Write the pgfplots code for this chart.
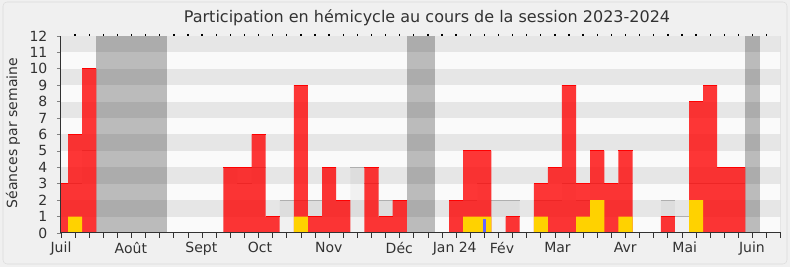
\documentclass[border=0pt]{standalone}
\usepackage{fontspec}
\setmainfont{DejaVu Sans}
\usepackage{pgfplots}
\pgfplotsset{compat=1.18}
\definecolor{bgout}{RGB}{240,240,240}
\definecolor{frameC}{RGB}{220,220,220}
\definecolor{bandL}{RGB}{250,250,250}
\definecolor{bandG}{RGB}{230,230,230}
\definecolor{medline}{RGB}{175,175,175}
\definecolor{presred}{RGB}{255,0,0}
\definecolor{yel}{RGB}{255,210,0}
\definecolor{blu}{RGB}{100,100,255}
\definecolor{axdark}{RGB}{50,50,50}
\begin{document}
\begin{tikzpicture}
\fill[bgout] (0,0) rectangle (592.5pt,200.25pt);
\draw[rounded corners=3pt, draw=frameC, fill=bgout] (2.25pt,2.25pt) rectangle (590.25pt,198.75pt);
\begin{axis}[
  at={(45.75pt,25.5pt)}, anchor=south west, scale only axis,
  width=539.8pt, height=147.75pt,
  xmin=0, xmax=51, ymin=0, ymax=12,
  axis x line*=bottom, axis y line*=left,
  axis line style={-, draw=axdark, line width=0.75pt},
  axis on top,
  tick align=outside,
  major tick length=3pt,
  minor tick length=3.5pt,
  xtick={0,4.95,9.95,14.1,18.97,23.97,27.9,31.25,35.18,39.98,44.2,48.96},
  xticklabels={Juil,Août,Sept,Oct,Nov,Déc,Jan 24,Fév,Mar,Avr,Mai,Juin},
  minor xtick={0,...,51},
  xtick style={draw=axdark, line width=0.6pt},
  major x tick style={draw=none},
  ytick={0,...,12},
  ytick style={draw=gray, line width=0.6pt},
  xticklabel style={font=\fontsize{10.5}{12}\selectfont, text=axdark, inner sep=0pt, anchor=north, yshift=-3.5pt},
  yticklabel style={font=\fontsize{10.5}{12}\selectfont, text=axdark, inner sep=0pt, anchor=east, xshift=-7pt},
  /pgf/number format/assume math mode=true,
  clip=true, clip marker paths=true,
]
% background bands
\fill[bandL] (axis cs:0,0) rectangle (axis cs:51,12);
\fill[bandG] (axis cs:0,1) rectangle (axis cs:51,2);
\fill[bandG] (axis cs:0,3) rectangle (axis cs:51,4);
\fill[bandG] (axis cs:0,5) rectangle (axis cs:51,6);
\fill[bandG] (axis cs:0,7) rectangle (axis cs:51,8);
\fill[bandG] (axis cs:0,9) rectangle (axis cs:51,10);
\fill[bandG] (axis cs:0,11) rectangle (axis cs:51,12);
% holidays
\fill[black, opacity=0.25] (axis cs:2.5,0) rectangle (axis cs:7.5,12);
\fill[black, opacity=0.25] (axis cs:24.5,0) rectangle (axis cs:26.5,12);
\fill[black, opacity=0.25] (axis cs:48.5,0) rectangle (axis cs:49.5,12);
\draw[frameC, line width=0.75pt] (axis cs:51,0) -- (axis cs:51,12);
% median
\addplot[ybar, bar width=1, bar shift=0pt, fill=black, fill opacity=0.035, draw=none]
 coordinates {(0,3)(1,3)(2,5)(12,4)(13,3)(14,4)(15,1)(16,2)(17,2)(18,2)(19,4)(20,2)(21,4)(22,3)(23,2)(24,2)(28,2)(29,2)(30,3)(31,2)(32,2)(34,2)(35,2)(36,3)(37,2)(38,3)(39,3)(40,3)(43,2)(44,1)(45,3)(46,3)(47,3)(48,3)};
\addplot[only marks, mark=-, mark size=5.28pt, mark options={draw=medline, line width=0.75pt}]
 coordinates {(0,3)(1,3)(2,5)(12,4)(13,3)(14,4)(15,1)(16,2)(17,2)(18,2)(19,4)(20,2)(21,4)(22,3)(23,2)(24,2)(28,2)(29,2)(30,3)(31,2)(32,2)(34,2)(35,2)(36,3)(37,2)(38,3)(39,3)(40,3)(43,2)(44,1)(45,3)(46,3)(47,3)(48,3)};
% presence
\addplot[ybar, bar width=1, bar shift=0pt, fill=presred, fill opacity=0.78, draw=none]
 coordinates {(0,3)(1,6)(2,10)(12,4)(13,4)(14,6)(15,1)(17,9)(18,1)(19,4)(20,2)(22,4)(23,1)(24,2)(28,2)(29,5)(30,5)(32,1)(34,3)(35,4)(36,9)(37,3)(38,5)(39,3)(40,5)(43,1)(45,8)(46,9)(47,4)(48,4)};
\addplot[only marks, mark=-, mark size=5.28pt, mark options={draw=presred, line width=0.75pt}]
 coordinates {(0,3)(1,6)(2,10)(12,4)(13,4)(14,6)(15,1)(17,9)(18,1)(19,4)(20,2)(22,4)(23,1)(24,2)(28,2)(29,5)(30,5)(32,1)(34,3)(35,4)(36,9)(37,3)(38,5)(39,3)(40,5)(43,1)(45,8)(46,9)(47,4)(48,4)};
% interventions
\addplot[ybar, bar width=1, bar shift=0pt, fill=yel, draw=none]
 coordinates {(1,1)(17,1)(29,1)(30,1)(34,1)(37,1)(38,2)(40,1)(45,2)};
% questions
\addplot[ybar, bar width=0.26, bar shift=0pt, fill=blu, draw=none]
 coordinates {(30,0.85)};
\end{axis}
\begin{axis}[
  at={(45.75pt,25.5pt)}, anchor=south west, scale only axis,
  width=539.8pt, height=147.75pt,
  xmin=0, xmax=51, ymin=0, ymax=12,
  axis x line*=top, axis y line=none,
  x axis line style={draw=none},
  xtick={1,...,50}, ytick=\empty,
  xticklabel={\relax},
  xticklabel style={inner sep=0pt},
  tick align=outside,
  major tick length=1.5pt,
  xtick style={draw=black, line width=1pt},
]
\end{axis}
\node[font=\fontsize{12}{14}\selectfont, text=axdark] at (320.25pt,186.75pt) {Participation en hémicycle au cours de la session 2023-2024};
\node[font=\fontsize{10.5}{12}\selectfont, text=axdark, rotate=90] at (9.75pt,100.5pt) {Séances par semaine};
\end{tikzpicture}
\end{document}
